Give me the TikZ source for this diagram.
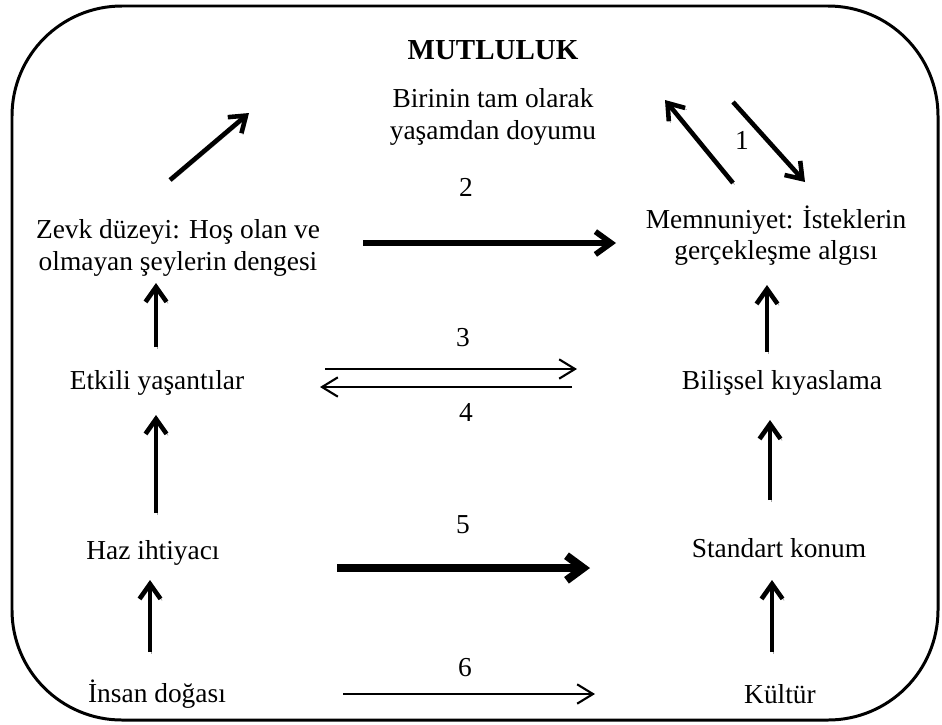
\documentclass[tikz,border=0pt]{standalone}
\usepackage{fontspec}
\setmainfont{Liberation Serif}
\usetikzlibrary{arrows.meta}

\begin{document}
\begin{tikzpicture}[x=0.02cm,y=-0.02cm,
  txt/.style={font=\fontsize{15.6}{17.8}\selectfont,align=center},
  frame/.style={line width=1.7pt,rounded corners=2.2cm},
  shadowed/.style={preaction={draw=black!35,transform canvas={xshift=0.9pt,yshift=-0.9pt}}},
  slim/.style={line width=1.2pt,-{Straight Barb[length=9pt,width=11pt]}},
  fat/.style={shadowed,line width=2.6pt,-{Straight Barb[length=8.5pt,width=12pt]}},
  fatter/.style={shadowed,line width=3.2pt,-{Straight Barb[length=9pt,width=13pt]}},
  fattest/.style={shadowed,line width=4.6pt,-{Straight Barb[length=9.5pt,width=14pt]}}]
  \useasboundingbox (0,0) rectangle (942,724);
  \draw[frame] (12,6) rectangle (938,720);

  % texts
  \node[txt,font=\fontsize{16.5}{19}\selectfont\bfseries] (title) at (493,50) {MUTLULUK};
  \node[txt] (doyum) at (493,117) {Birinin tam olarak\\yaşamdan doyumu};
  \node[txt] (zevk) at (178,248) {Zevk düzeyi: Hoş olan ve\\olmayan şeylerin dengesi};
  \node[txt] (memnun) at (776,236) {Memnuniyet: İsteklerin\\gerçekleşme algısı};
  \node[txt] (etkili) at (157,383) {Etkili yaşantılar};
  \node[txt] (bilissel) at (782,383) {Bilişsel kıyaslama};
  \node[txt] (haz) at (153,553) {Haz ihtiyacı};
  \node[txt] (standart) at (779,548) {Standart konum};
  \node[txt] (insan) at (157,694) {İnsan doğası};
  \node[txt] (kultur) at (780,694) {Kültür};

  % numbers
  \node[txt] (lab1) at (742,140) {1};
  \node[txt] (lab2) at (466,187) {2};
  \node[txt] (lab3) at (463,338) {3};
  \node[txt] (lab4) at (466,412) {4};
  \node[txt] (lab5) at (463,525) {5};
  \node[txt] (lab6) at (465,668) {6};

  % arrow ends
  \coordinate (zA) at (170,180); \coordinate (zB) at (249,113);
  \coordinate (mA) at (733,183); \coordinate (mB) at (665,100);
  \coordinate (dA) at (733,102); \coordinate (dB) at (805,182);
  \coordinate (a2) at (363,243); \coordinate (b2) at (616,243);
  \coordinate (a3) at (325,369); \coordinate (b3) at (577,369);
  \coordinate (a4) at (572,387); \coordinate (b4) at (320,387);
  \coordinate (a5) at (337,568); \coordinate (b5) at (590,568);
  \coordinate (a6) at (343,694); \coordinate (b6) at (595,694);
  \coordinate (l1) at (156,347); \coordinate (l2) at (156,283);
  \coordinate (l3) at (156,513); \coordinate (l4) at (156,415);
  \coordinate (l5) at (150,652); \coordinate (l6) at (150,580);
  \coordinate (r1) at (767,352); \coordinate (r2) at (767,285);
  \coordinate (r3) at (770,500); \coordinate (r4) at (770,420);
  \coordinate (r5) at (772,652); \coordinate (r6) at (772,580);

  \draw[fat] (zA) -- (zB);
  \draw[fat] (mA) -- (mB);
  \draw[fat] (dA) -- (dB);
  \draw[fatter] (a2) -- (b2);
  \draw[slim] (a3) -- (b3);
  \draw[slim] (a4) -- (b4);
  \draw[fattest] (a5) -- (b5);
  \draw[slim] (a6) -- (b6);
  \draw[fat] (l1) -- (l2);
  \draw[fat] (l3) -- (l4);
  \draw[fat] (l5) -- (l6);
  \draw[fat] (r1) -- (r2);
  \draw[fat] (r3) -- (r4);
  \draw[fat] (r5) -- (r6);
\end{tikzpicture}
\end{document}
